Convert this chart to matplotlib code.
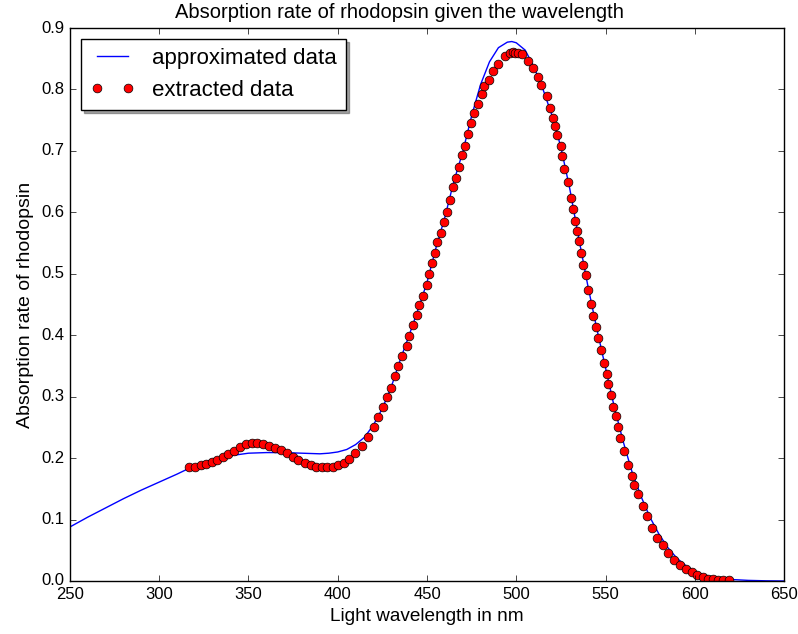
import matplotlib
matplotlib.use("Agg")
import matplotlib.pyplot as plt

plt.style.use('classic')
plt.rcParams['font.family'] = ['Liberation Sans', 'DejaVu Sans']

# approximated curve (nm, absorption)
approx_x = [250, 260, 270, 280, 290, 300, 310, 315, 320, 330, 340, 350, 360, 370,
            380, 390, 395, 400, 405, 410, 415, 420, 425, 430, 435, 440, 445, 450,
            455, 460, 465, 470, 475, 480, 485, 490, 495, 497.5, 500, 505, 510, 515,
            520, 525, 530, 535, 540, 545, 550, 555, 560, 565, 570, 575, 580, 585,
            590, 595, 600, 605, 610, 615, 620, 630, 640, 650]
approx_y = [0.088, 0.104, 0.119, 0.134, 0.148, 0.161, 0.174, 0.181, 0.188, 0.198,
            0.204, 0.208, 0.209, 0.209, 0.208, 0.207, 0.208, 0.210, 0.214, 0.222,
            0.234, 0.254, 0.281, 0.316, 0.360, 0.400, 0.442, 0.486, 0.542, 0.592,
            0.650, 0.698, 0.757, 0.808, 0.845, 0.868, 0.877, 0.878, 0.876, 0.864,
            0.836, 0.800, 0.758, 0.706, 0.638, 0.558, 0.482, 0.412, 0.347, 0.282,
            0.226, 0.176, 0.137, 0.103, 0.076, 0.054, 0.037, 0.025, 0.016, 0.010,
            0.006, 0.004, 0.0025, 0.001, 0.0003, 0.0]

# extracted data points (nm, absorption)
ext_x = [316.8, 320.0, 323.2, 326.2, 329.4, 332.2, 335.5, 338.7, 342.0, 345.2,
         348.6, 351.8, 354.9, 358.3, 361.5, 364.8, 368.2, 371.4, 374.8, 377.9,
         381.7, 384.8, 387.8, 391.0, 394.1, 397.2, 400.3, 403.5, 406.5, 409.7,
         413.4, 417.1, 420.3, 422.7, 425.5, 427.8, 429.6, 432.1, 433.8, 436.2,
         439.0, 440.0, 442.0, 444.2, 445.7, 447.9, 449.8, 451.1, 452.6, 454.5,
         455.8, 457.7, 459.5, 461.0, 462.6, 464.4, 466.0, 468.0, 469.8, 471.3,
         473.2, 474.6, 476.3, 478.7, 481.0, 482.1, 484.7, 487.2, 490.0, 493.7,
         496.5, 498.0, 499.3, 501.2, 503.4, 506.6, 509.5, 512.0, 514.0, 517.0,
         519.0, 520.5, 521.5, 523.0, 525.0, 525.8, 527.0, 529.0, 530.7, 531.6,
         533.0, 533.9, 535.0, 536.0, 537.6, 539.0, 540.4, 541.9, 543.2, 544.7,
         546.0, 547.3, 549.2, 550.7, 551.4, 553.0, 554.4, 555.9, 557.2, 558.3,
         560.5, 562.8, 564.7, 566.1, 568.0, 570.8, 573.0, 575.8, 578.7, 582.0,
         585.2, 588.5, 591.7, 594.9, 598.3, 601.4, 604.8, 607.6, 610.4, 613.2,
         616.0, 619.4]
ext_y = [0.185, 0.185, 0.188, 0.190, 0.193, 0.197, 0.201, 0.206, 0.212, 0.218,
         0.223, 0.224, 0.224, 0.223, 0.220, 0.216, 0.213, 0.208, 0.202, 0.197,
         0.192, 0.189, 0.186, 0.185, 0.185, 0.186, 0.188, 0.192, 0.198, 0.208,
         0.219, 0.234, 0.250, 0.267, 0.283, 0.299, 0.314, 0.333, 0.350, 0.367,
         0.383, 0.398, 0.417, 0.433, 0.450, 0.464, 0.482, 0.500, 0.517, 0.534,
         0.551, 0.567, 0.584, 0.600, 0.620, 0.641, 0.656, 0.674, 0.693, 0.708,
         0.728, 0.745, 0.761, 0.777, 0.792, 0.805, 0.815, 0.830, 0.841, 0.855,
         0.860, 0.861, 0.860, 0.859, 0.857, 0.847, 0.835, 0.821, 0.808, 0.789,
         0.770, 0.754, 0.740, 0.726, 0.708, 0.691, 0.671, 0.649, 0.624, 0.606,
         0.586, 0.569, 0.553, 0.534, 0.515, 0.498, 0.473, 0.451, 0.432, 0.414,
         0.396, 0.376, 0.355, 0.337, 0.321, 0.303, 0.284, 0.268, 0.250, 0.233,
         0.211, 0.188, 0.171, 0.156, 0.141, 0.122, 0.105, 0.087, 0.070, 0.058,
         0.045, 0.034, 0.026, 0.019, 0.014, 0.010, 0.006, 0.004, 0.003, 0.002,
         0.002, 0.002]

fig = plt.figure(figsize=(7.98, 6.34), dpi=100, facecolor='white')
ax = fig.add_axes([0.0877, 0.0836, 0.8948, 0.8722])
ax.plot(approx_x, approx_y, color='b', lw=1.0, label='approximated data')
ax.plot(ext_x, ext_y, 'o', color='r', markersize=6.3, markeredgecolor='k',
        markeredgewidth=0.5, label='extracted data')
ax.set_xlim(250, 650)
ax.set_ylim(0, 0.9)
ax.set_xticks(range(250, 651, 50))
ax.set_yticks([0.0, 0.1, 0.2, 0.3, 0.4, 0.5, 0.6, 0.7, 0.8, 0.9])
ax.tick_params(labelsize=12)
ax.set_xlabel('Light wavelength in nm', fontsize=13.7)
ax.set_ylabel('Absorption rate of rhodopsin', fontsize=14)
fig.suptitle('Absorption rate of rhodopsin given the wavelength', fontsize=14.5,
             x=0.5, y=0.995, va='top')
ax.legend(loc='upper left', numpoints=2, shadow=True, fancybox=False, fontsize=16)
fig.savefig('out.png', dpi=100, facecolor='white')
